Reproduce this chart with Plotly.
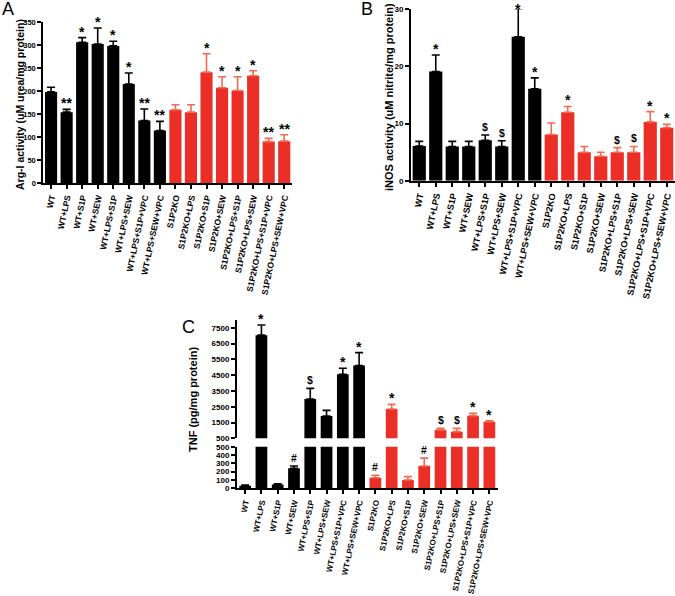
import plotly.graph_objects as go

categories = ["WT", "WT+LPS", "WT+S1P", "WT+SEW", "WT+LPS+S1P", "WT+LPS+SEW",
              "WT+LPS+S1P+VPC", "WT+LPS+SEW+VPC", "S1P2KO", "S1P2KO+LPS",
              "S1P2KO+S1P", "S1P2KO+SEW", "S1P2KO+LPS+S1P", "S1P2KO+LPS+SEW",
              "S1P2KO+LPS+S1P+VPC", "S1P2KO+LPS+SEW+VPC"]

# Panel A: Arg-I activity
arg_values = [198, 154, 306, 302, 298, 215, 136, 114, 159, 154, 241, 207, 201, 233, 90, 91]
arg_err = [10, 6, 10, 35, 10, 24, 25, 20, 11, 16, 40, 24, 30, 11, 7, 14]
arg_marks = ["", "**", "*", "*", "*", "*", "**", "**", "", "", "*", "*", "*", "*", "**", "**"]

# Panel B: iNOS activity
inos_values = [6.1, 19.1, 6.0, 6.0, 7.1, 6.0, 25.2, 16.1, 8.1, 12.0, 5.0, 4.3, 5.0, 5.0, 10.3, 9.3]
inos_err = [0.8, 2.9, 0.9, 0.9, 0.9, 1.0, 4.9, 1.9, 2.0, 1.0, 1.0, 0.7, 0.8, 1.0, 1.8, 0.6]
inos_marks = ["", "*", "", "", "$", "$", "*", "*", "", "*", "", "", "$", "$", "*", "*"]

# Panel C: TNF
tnf_values = [30, 7030, 45, 240, 2990, 1910, 4550, 5100, 127, 2350, 100, 268, 1025, 920, 1930, 1550]
tnf_err = [8, 640, 8, 28, 670, 360, 380, 820, 30, 300, 40, 95, 105, 210, 150, 60]
tnf_marks = ["", "*", "", "#", "$", "", "*", "*", "#", "*", "", "#", "$", "$", "*", "*"]

BLACK = "#000000"
RED = "#EC2F26"
RED_ERR = "#F26A52"
colors = [BLACK] * 8 + [RED] * 8
err_colors = [BLACK] * 8 + [RED_ERR] * 8

W, H = 675, 596
def px_x(p): return p / W
def px_y(p): return 1 - p / H

FONT = "Liberation Sans, Arial, sans-serif"
fig = go.Figure()

def add_bars(values, err, xa, ya, width):
    for i in range(2):
        sl = slice(i * 8, i * 8 + 8)
        fig.add_trace(go.Bar(
            x=categories[sl], y=values[sl], xaxis=xa, yaxis=ya,
            marker=dict(color=colors[sl][0], line=dict(width=0)),
            width=width,
            error_y=dict(type="data", symmetric=False, array=err[sl],
                         arrayminus=[0] * 8, color=err_colors[sl][0],
                         thickness=1.6, width=4),
            showlegend=False, hoverinfo="skip"))

add_bars(arg_values, arg_err, "x", "y", 0.78)
add_bars(inos_values, inos_err, "x2", "y2", 0.8)
add_bars(tnf_values, tnf_err, "x3", "y3", 0.72)
add_bars(tnf_values, tnf_err, "x4", "y4", 0.72)

def tf(size):
    return dict(family=FONT, size=size, color="black", weight="bold")

def xax(size):
    return dict(type="category", categoryorder="array", categoryarray=categories,
                range=[-0.5, 15.5], showline=True, linecolor="black", linewidth=2,
                ticks="outside", ticklen=4, tickwidth=1.5, tickcolor="black",
                tickangle=-78, tickfont=tf(size), showgrid=False, zeroline=False,
                automargin=False)

def yax(size):
    return dict(showline=True, linecolor="black", linewidth=2, ticks="outside",
                ticklen=4, tickwidth=1.5, tickcolor="black", tickfont=tf(size),
                showgrid=False, zeroline=False, automargin=False)

A_MAX, B_MAX = 350, 30
C_LO, C_HI = [0, 500], [500, 8000]

fig.update_layout(
    width=W, height=H, margin=dict(l=0, r=0, t=0, b=0),
    plot_bgcolor="white", paper_bgcolor="white", barmode="overlay",
    xaxis=dict(xax(8.5), domain=[px_x(43.3), px_x(292)], anchor="y"),
    yaxis=dict(yax(7.5), domain=[px_y(183), px_y(22)], range=[0, A_MAX], dtick=50, anchor="x"),
    xaxis2=dict(xax(9), domain=[px_x(411), px_x(675)], anchor="y2"),
    yaxis2=dict(yax(8), domain=[px_y(180.8), px_y(9.3)], range=[0, B_MAX], dtick=10, anchor="x2"),
    xaxis3=dict(xax(8), domain=[px_x(237), px_x(497.5)], anchor="y3"),
    yaxis3=dict(yax(8), domain=[px_y(488.3), px_y(446.7)], range=C_LO, dtick=100, anchor="x3"),
    xaxis4=dict(xax(8), domain=[px_x(237), px_x(497.5)], anchor="y4", visible=False),
    yaxis4=dict(yax(8), domain=[px_y(438.3), px_y(319.8)], range=C_HI,
                tick0=500, dtick=1000, anchor="x4"),
)

ann = []
def marks(values, err, mk, xref, yref, ymax, cond=lambda v: True):
    for c, v, e, m in zip(categories, values, err, mk):
        if m and cond(v):
            star = m.startswith("*")
            top = v + e
            shift = -4 if star else 0
            if top > ymax:
                shift = -10
            ann.append(dict(x=c, y=min(top, ymax), xref=xref, yref=yref, text=m,
                            showarrow=False, yanchor="bottom", yshift=shift,
                            font=tf(14 if star else 10.5)))

marks(arg_values, arg_err, arg_marks, "x", "y", A_MAX)
marks(inos_values, inos_err, inos_marks, "x2", "y2", B_MAX)
marks(tnf_values, tnf_err, tnf_marks, "x3", "y3", C_LO[1], lambda v: v < 500)
marks(tnf_values, tnf_err, tnf_marks, "x4", "y4", C_HI[1], lambda v: v >= 500)

def title(text, x, y, size):
    ann.append(dict(x=px_x(x), y=px_y(y), xref="paper", yref="paper", text=text,
                    textangle=-90, showarrow=False, xanchor="center", yanchor="middle",
                    font=tf(size)))

title("Arg-I activity (uM urea/mg protein)", 20, 105, 10.5)
title("iNOS activity (uM nitrite/mg protein)", 389, 97, 11)
title("TNF (pg/mg protein)", 193, 400, 11)

for lab, x, y in [("A", 8, 9), ("B", 367, 9), ("C", 188, 327)]:
    ann.append(dict(x=px_x(x), y=px_y(y), xref="paper", yref="paper", text=lab,
                    showarrow=False, xanchor="center", yanchor="middle",
                    font=dict(family=FONT, size=18, color="black")))

fig.update_layout(annotations=ann)
fig.write_html("out.html", config={"displayModeBar": False},
               post_script="document.body.style.margin='0';")
